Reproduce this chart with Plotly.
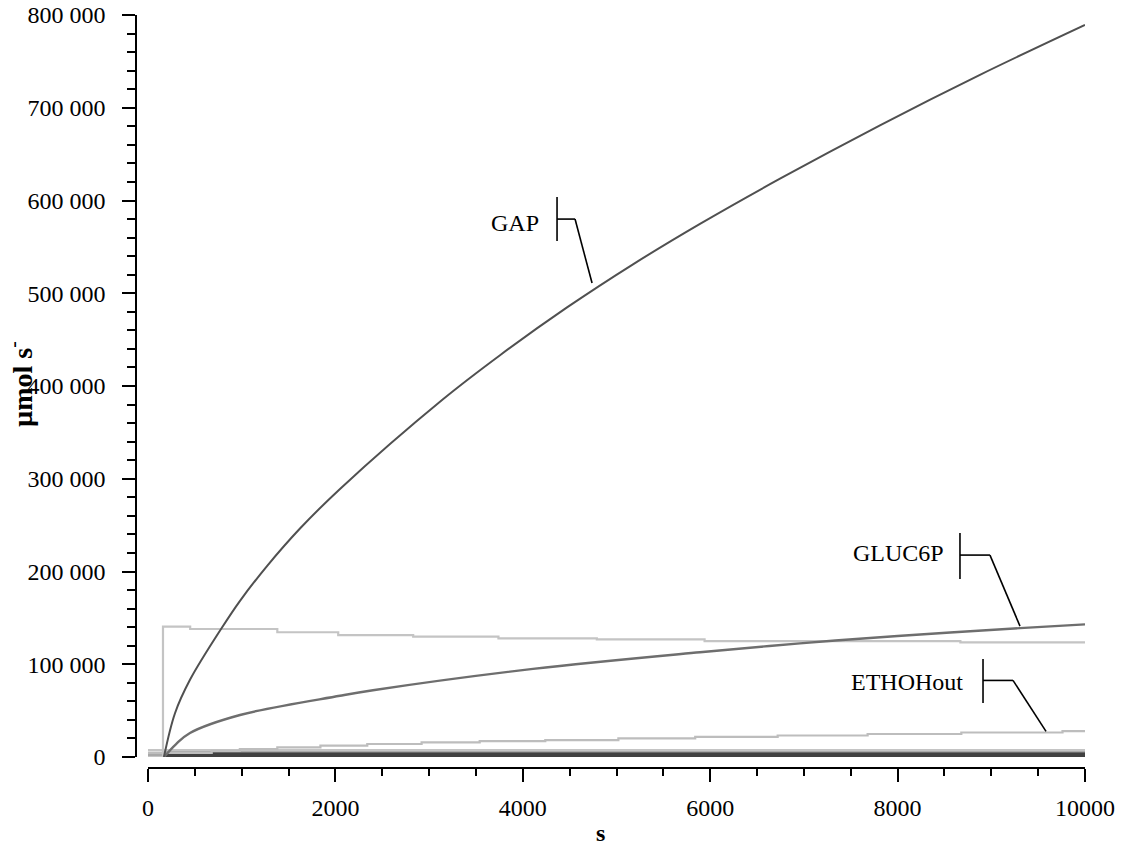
import numpy as np
import plotly.graph_objects as go

# ---------------- data ----------------
gap_t = [170, 288, 448, 790, 982, 1270, 1622, 2049, 3148, 3757, 4472, 5176, 5891, 6745, 7812, 8879, 10000]
gap_v = [0, 47200, 83200, 139600, 168400, 205800, 246300, 289000, 385700, 433200, 484700,
         531200, 574800, 623500, 681100, 735500, 789300]

gluc_t = [170, 300, 448, 982, 2049, 2401, 4109, 5891, 6958, 8000, 9306, 10000]
gluc_v = [0, 14000, 25900, 45300, 66000, 72000, 95000, 113000, 122500, 130500, 139000, 143000]

light_t = [0, 160, 450, 1380, 2030, 2830, 3740, 4790, 5940, 8670, 10000]
light_v = [0, 140500, 138000, 134500, 131500, 129700, 128000, 126800, 125000, 123500, 123500]

eth_t = [0, 680, 980, 1380, 1840, 2340, 2920, 3540, 4240, 5020, 5840, 6720, 7680, 8680, 9760, 10000]
eth_v = [4500, 6500, 8500, 10300, 12300, 14000, 15800, 17200, 18300, 20000, 21600, 23200,
         24800, 26400, 27800, 27800]

base_t = [0, 10000]
base_light_v = [7500, 7500]
base_pale_v = [3000, 3000]
base_mid_t = [170, 10000]
base_mid_v = [4500, 4500]
base_dark_v = [1800, 1800]

y_tickvals = [0, 100000, 200000, 300000, 400000, 500000, 600000, 700000, 800000]
y_ticktext = ["0", "100 000", "200 000", "300 000", "400 000", "500 000", "600 000", "700 000", "800 000"]
x_tickvals = [0, 2000, 4000, 6000, 8000, 10000]
x_ticktext = ["0", "2000", "4000", "6000", "8000", "10000"]

# ---------------- figure ----------------
W, H = 1121, 847
FONT = "Liberation Serif, Times New Roman, serif"

fig = go.Figure()

def add_line(x, y, color, width, shape="linear", name="", smoothing=None):
    line = dict(color=color, width=width, shape=shape)
    if smoothing is not None:
        line["smoothing"] = smoothing
    fig.add_trace(go.Scatter(x=x, y=y, mode="lines", line=line,
                             name=name, hoverinfo="skip", showlegend=False))

add_line(base_t, base_pale_v, "#a8a8a8", 5)
add_line(base_t, base_light_v, "#c4c4c4", 2)
add_line(base_mid_t, base_mid_v, "#6a6a6a", 2.5)
add_line(base_mid_t, base_dark_v, "#404040", 4.5)
add_line(eth_t, eth_v, "#bdbdbd", 2.2, "hv", "ETHOHout")
add_line(light_t, light_v, "#c4c4c4", 2.2, "hv")
add_line(gluc_t, gluc_v, "#6e6e6e", 2.4, "spline", "GLUC6P", 1.0)
add_line(gap_t, gap_v, "#505050", 2.0, "spline", "GAP", 1.0)

# callouts: (label, t, series_t, series_v, pointer-start, elbow, bar x, bar y0, bar y1, text pos)
callouts = [
    ("GAP", 4739, gap_t, gap_v, (0, 8), (-17, 72), -35, 50, 94, (-77, 68)),
    ("GLUC6P", 9306, gluc_t, gluc_v, (0, 2), (-30, 73), -60, 49, 95, (-121, 75)),
    ("ETHOHout", 9584, eth_t, eth_v, (0, 0), (-33, 51), -63, 28.5, 72.5, (-139, 49.5)),
]
for label, t, st, sv, p0, elbow, bx, by0, by1, tp in callouts:
    v = float(np.interp(t, st, sv))
    common = dict(type="line", xref="x", yref="y", xsizemode="pixel", ysizemode="pixel",
                  xanchor=t, yanchor=v, line=dict(color="black", width=1.6))
    fig.add_shape(x0=p0[0], y0=p0[1], x1=elbow[0], y1=elbow[1], **common)
    fig.add_shape(x0=elbow[0], y0=elbow[1], x1=bx, y1=elbow[1], **common)
    fig.add_shape(x0=bx, y0=by0, x1=bx, y1=by1, **common)
    fig.add_annotation(x=t, y=v, xref="x", yref="y", text=label, showarrow=False,
                       xshift=tp[0], yshift=tp[1], xanchor="center", yanchor="middle",
                       font=dict(family=FONT, size=24, color="black"))

# axis titles
fig.add_annotation(x=600 / W, y=1 - 833 / H, xref="paper", yref="paper", text="<b>s</b>",
                   showarrow=False, xanchor="center", yanchor="middle",
                   font=dict(family=FONT, size=24, color="black"))
fig.add_annotation(x=21 / W, y=1 - 384 / H, xref="paper", yref="paper", text="<b>µmol s<sup>-</sup></b>",
                   showarrow=False, textangle=-90, xanchor="center", yanchor="middle",
                   font=dict(family=FONT, size=28, color="black"))

fig.update_layout(
    width=W, height=H,
    margin=dict(l=0, r=0, t=0, b=0, pad=0),
    paper_bgcolor="white", plot_bgcolor="white",
    font=dict(family=FONT, size=24, color="black"),
    showlegend=False,
    xaxis=dict(
        domain=[148 / W, 1085 / W], range=[0, 10000], anchor="free", position=1 - 768 / H,
        showline=True, linecolor="black", linewidth=1.6, showgrid=False, zeroline=False,
        ticks="outside", ticklen=13, tickwidth=1.6, tickcolor="black",
        tickvals=x_tickvals, ticktext=x_ticktext, ticklabelstandoff=5,
        minor=dict(dtick=500, tick0=0, ticks="outside", ticklen=7, tickwidth=1.6, tickcolor="black", showgrid=False),
        tickfont=dict(family=FONT, size=24, color="black"), automargin=False,
    ),
    yaxis=dict(
        domain=[1 - 757 / H, 1 - 15 / H], range=[0, 800000], anchor="free", position=136 / W,
        showline=True, linecolor="black", linewidth=1.6, showgrid=False, zeroline=False,
        ticks="outside", ticklen=13, tickwidth=1.6, tickcolor="black",
        tickvals=y_tickvals, ticktext=y_ticktext, ticklabelstandoff=12,
        minor=dict(dtick=20000, tick0=0, ticks="outside", ticklen=8, tickwidth=1.6, tickcolor="black", showgrid=False),
        tickfont=dict(family=FONT, size=24, color="black"), automargin=False,
    ),
)

fig.write_html("out.html", config={"displayModeBar": False},
               post_script="document.body.style.margin='0';document.body.style.overflow='hidden';")
